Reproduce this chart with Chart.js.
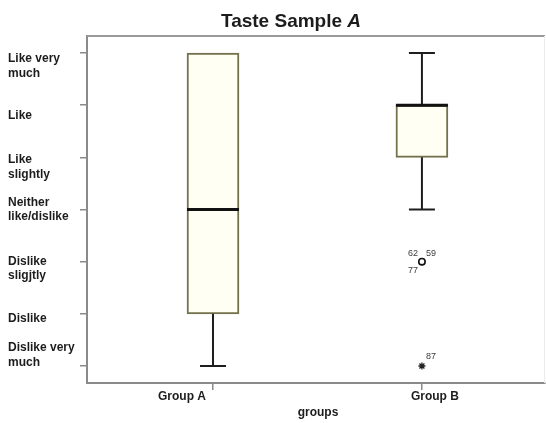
<!DOCTYPE html>
<html>
<head>
<meta charset="utf-8">
<script src="https://cdn.jsdelivr.net/npm/chart.js@4.4.1/dist/chart.umd.min.js"></script>
<style>
  html, body { margin: 0; padding: 0; background: #ffffff; }
  #wrap { position: relative; width: 546px; height: 423px; }
</style>
</head>
<body>
<div id="wrap"><canvas id="chart"></canvas></div>
<script>
// Box-plot summary of the taste ratings per group (1 = Dislike very much ... 7 = Like very much)
const groups = ['Group A', 'Group B'];
const whiskerLow = [1, 4];
const q1 = [2, 5];
const median = [4, 6];
const q3 = [7, 6];
const whiskerHigh = [7, 7];

// Rating scale tick labels, for values 1..7
const ratingValues = [1, 2, 3, 4, 5, 6, 7];
const ratingLabels = [
  ['Dislike very', 'much'],
  ['Dislike'],
  ['Dislike', 'sligjtly'],
  ['Neither', 'like/dislike'],
  ['Like', 'slightly'],
  ['Like'],
  ['Like very', 'much']
];

// Outliers (circle) and extreme values (star) with their case numbers
const outlierGroup = [1];
const outlierValue = [3];
const outlierCases = [['62', '59', '77']];
const extremeGroup = [1];
const extremeValue = [1];
const extremeCases = [['87']];

// Label placement tweaks (pixels)
const yLabelShift = [-11, 5, 7, 0, 10, 11, 13];
const xLabelShift = [-31, 13];

const boxData = groups.map((g, i) => ({ x: i, y: [q1[i], q3[i]] }));
const outlierData = outlierGroup.map((g, i) => ({ x: g, y: outlierValue[i] }));
const extremeData = extremeGroup.map((g, i) => ({ x: g, y: extremeValue[i] }));

const TEXT = '#1c1c1c';
const FONT = 'Liberation Sans, Arial, sans-serif';

const boxDecor = {
  id: 'boxDecor',
  beforeDatasetsDraw(chart) {
    const { ctx, chartArea: a } = chart;
    ctx.save();
    // top and right frame of the plot area
    ctx.strokeStyle = '#9a9a9a';
    ctx.lineWidth = 2;
    ctx.beginPath();
    ctx.moveTo(a.left, a.top);
    ctx.lineTo(a.right, a.top);
    ctx.stroke();
    ctx.strokeStyle = '#ececec';
    ctx.lineWidth = 1;
    ctx.beginPath();
    ctx.moveTo(a.right - 0.5, a.top);
    ctx.lineTo(a.right - 0.5, a.bottom);
    ctx.stroke();
    ctx.restore();
  },
  afterDatasetsDraw(chart) {
    const { ctx } = chart;
    const xs = chart.scales.x, ys = chart.scales.y;
    const boxHalf = 26, capHalf = 13;
    ctx.save();
    groups.forEach((g, i) => {
      const cx = xs.getPixelForValue(i);
      // whiskers
      ctx.strokeStyle = '#1e1e1e';
      ctx.lineWidth = 2;
      const segs = [[q3[i], whiskerHigh[i]], [q1[i], whiskerLow[i]]];
      segs.forEach(([from, to]) => {
        if (from === to) return;
        const y0 = ys.getPixelForValue(from), y1 = ys.getPixelForValue(to);
        ctx.beginPath();
        ctx.moveTo(cx, y0);
        ctx.lineTo(cx, y1);
        ctx.moveTo(cx - capHalf, y1);
        ctx.lineTo(cx + capHalf, y1);
        ctx.stroke();
      });
      // median
      const my = ys.getPixelForValue(median[i]);
      ctx.strokeStyle = '#111111';
      ctx.lineWidth = 3;
      ctx.beginPath();
      ctx.moveTo(cx - boxHalf, my);
      ctx.lineTo(cx + boxHalf, my);
      ctx.stroke();
    });
    ctx.restore();
  },
  afterDraw(chart) {
    const { ctx } = chart;
    const xs = chart.scales.x, ys = chart.scales.y;
    ctx.save();
    ctx.fillStyle = TEXT;
    // title with italic sample letter
    ctx.textBaseline = 'alphabetic';
    const t1 = 'Taste Sample ';
    ctx.font = 'bold italic 19px ' + FONT;
    const w2 = ctx.measureText('A').width;
    ctx.font = 'bold 19px ' + FONT;
    const w1 = ctx.measureText(t1).width;
    const tx = 291 - (w1 + w2) / 2;
    ctx.textAlign = 'left';
    ctx.fillText(t1, tx, 27);
    ctx.font = 'bold italic 19px ' + FONT;
    ctx.fillText('A', tx + w1, 27);

    // y tick labels
    ctx.font = 'bold 12px ' + FONT;
    ctx.textBaseline = 'middle';
    ctx.textAlign = 'left';
    ratingValues.forEach((v, i) => {
      const lines = ratingLabels[i];
      const cy = ys.getPixelForValue(v) + yLabelShift[i];
      const lh = 14.5;
      lines.forEach((ln, k) => {
        ctx.fillText(ln, 8, cy + (k - (lines.length - 1) / 2) * lh);
      });
    });

    // x tick labels and axis title
    ctx.textAlign = 'center';
    groups.forEach((g, i) => {
      ctx.fillText(g, xs.getPixelForValue(i) + xLabelShift[i], 397);
    });
    ctx.fillText('groups', 318, 413);

    // case numbers next to outliers / extremes
    ctx.font = '9px ' + FONT;
    ctx.fillStyle = '#3a3a3a';
    outlierGroup.forEach((g, i) => {
      const px = xs.getPixelForValue(g), py = ys.getPixelForValue(outlierValue[i]);
      const c = outlierCases[i];
      ctx.fillText(c[0], px - 9, py - 8);
      if (c[1]) ctx.fillText(c[1], px + 9, py - 8);
      if (c[2]) ctx.fillText(c[2], px - 9, py + 9);
    });
    extremeGroup.forEach((g, i) => {
      const px = xs.getPixelForValue(g), py = ys.getPixelForValue(extremeValue[i]);
      ctx.fillText(extremeCases[i][0], px + 9, py - 9);
    });
    ctx.restore();
  }
};

new Chart(document.getElementById('chart'), {
  type: 'bar',
  data: {
    datasets: [
      {
        label: 'box',
        data: boxData,
        backgroundColor: '#fffff3',
        borderColor: '#74714d',
        borderWidth: 2,
        borderSkipped: false,
        barThickness: 52,
        order: 3
      },
      {
        type: 'scatter',
        label: 'outliers',
        data: outlierData,
        pointStyle: 'circle',
        pointRadius: 3.2,
        pointBorderWidth: 1.6,
        pointBorderColor: '#111111',
        pointBackgroundColor: '#ffffff',
        showLine: false,
        order: 1
      },
      {
        type: 'scatter',
        label: 'extremes',
        data: extremeData,
        pointStyle: 'star',
        pointRadius: 3.5,
        pointBorderWidth: 1.3,
        pointBorderColor: '#222222',
        showLine: false,
        order: 1
      }
    ]
  },
  options: {
    responsive: true,
    maintainAspectRatio: false,
    animation: false,
    events: [],
    layout: { autoPadding: false, padding: { top: 36, right: 1, left: 0, bottom: 0 } },
    plugins: { legend: { display: false }, tooltip: { enabled: false }, title: { display: false } },
    scales: {
      x: {
        type: 'linear',
        offset: false,
        min: -0.603,
        max: 1.589,
        afterBuildTicks: (s) => { s.ticks = groups.map((g, i) => ({ value: i })); },
        afterFit: (s) => { s.height = 40; s.paddingLeft = 0; s.paddingRight = 0; },
        ticks: { display: false },
        grid: { offset: false, drawOnChartArea: false, drawTicks: true, tickLength: 7, color: '#8a8a8a', lineWidth: 1.5 },
        border: { display: true, color: '#8a8a8a', width: 2 }
      },
      y: {
        type: 'linear',
        min: 0.674,
        max: 7.326,
        afterBuildTicks: (s) => { s.ticks = ratingValues.map(v => ({ value: v })); },
        afterFit: (s) => { s.width = 87; s.paddingTop = 0; s.paddingBottom = 0; },
        ticks: { display: false },
        grid: { drawOnChartArea: false, drawTicks: true, tickLength: 7, color: '#8a8a8a', lineWidth: 1.5 },
        border: { display: true, color: '#8a8a8a', width: 2 }
      }
    }
  },
  plugins: [boxDecor]
});
</script>
</body>
</html>
